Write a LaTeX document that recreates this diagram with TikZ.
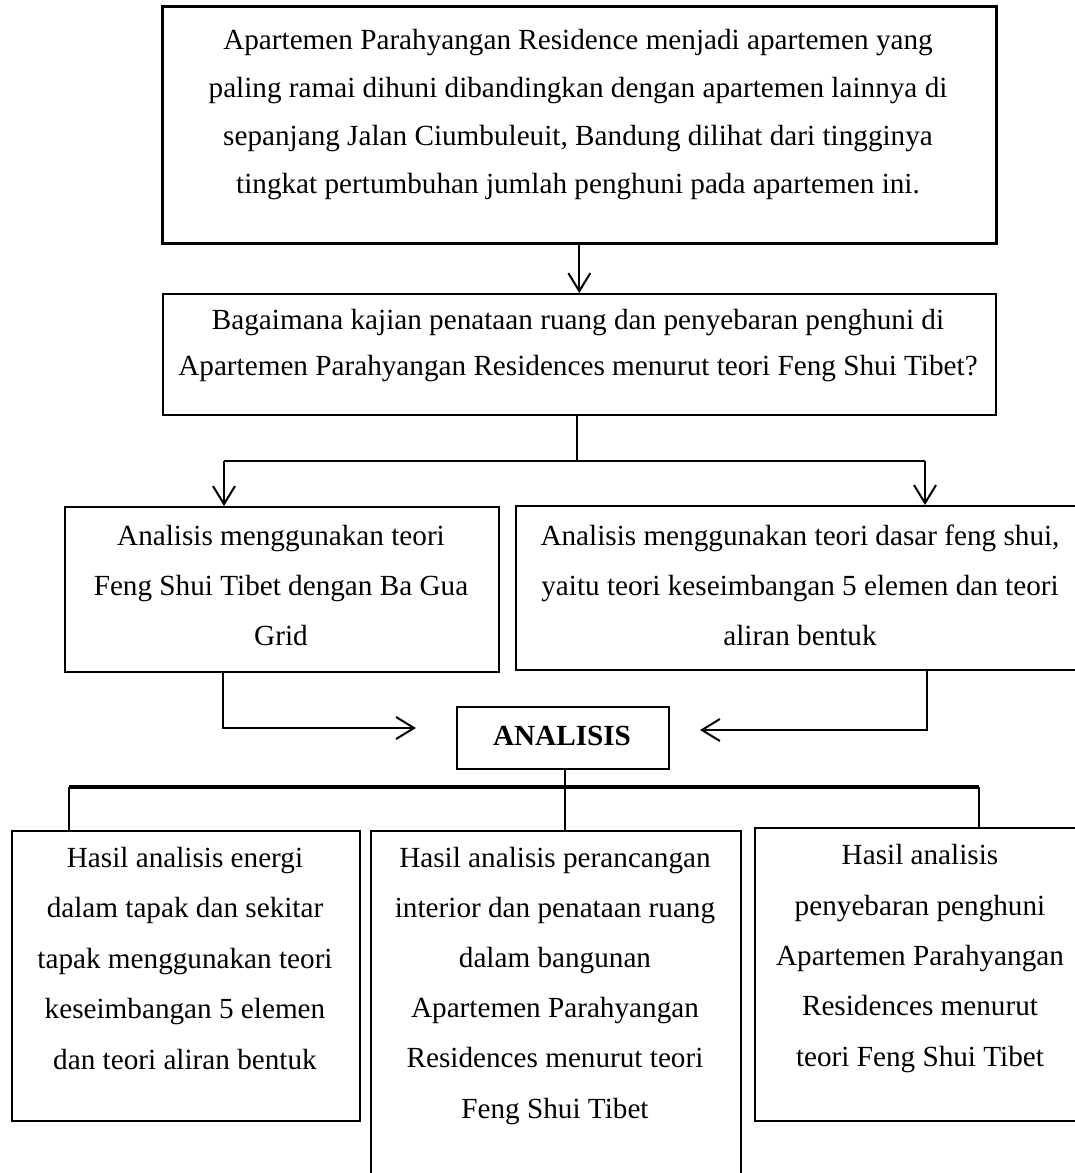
\documentclass[tikz,border=0pt]{standalone}
\usepackage{fontspec}
\setmainfont{Liberation Serif}
\usetikzlibrary{arrows.meta}
\tikzset{
  boxstyle/.style={draw, line width=1.6pt, inner sep=0pt, anchor=north west},
  txtstyle/.style={anchor=base, align=center, inner sep=0pt},
  conn/.style={line width=2pt},
  arr/.style={line width=2pt, -{Straight Barb[length=18pt,width=22pt,line width=2pt]}},
  barstyle/.style={line width=3.5pt}
}
\begin{document}
\begin{tikzpicture}[x=1pt,y=-1pt]
\useasboundingbox (0,0) rectangle (1075,1173);
\clip (0,0) rectangle (1075,1173);
% boxes
\node[boxstyle, line width=2.6pt, minimum width=834pt, minimum height=237pt] (T) at (161,5) {};
\node[boxstyle, minimum width=833pt, minimum height=121pt] (S) at (162,293) {};
\node[boxstyle, minimum width=434pt, minimum height=165pt] (L) at (64,506) {};
\node[boxstyle, minimum width=570pt, minimum height=164pt] (R) at (515,505) {};
\node[boxstyle, minimum width=212pt, minimum height=62pt] (A) at (456,706) {};
\node[boxstyle, minimum width=348pt, minimum height=290pt] (B1) at (11,830) {};
\node[boxstyle, minimum width=370pt, minimum height=400pt] (B2) at (370,830) {};
\node[boxstyle, minimum width=332pt, minimum height=293pt] (B3) at (754,827) {};
% texts (anchored at the baseline of the last line)
\node[txtstyle, font=\fontsize{29.2}{48}\selectfont] (tT) at (578,193)
  {Apartemen Parahyangan Residence menjadi apartemen yang\\
   paling ramai dihuni dibandingkan dengan apartemen lainnya di\\
   sepanjang Jalan Ciumbuleuit, Bandung dilihat dari tingginya\\
   tingkat pertumbuhan jumlah penghuni pada apartemen ini.};
\node[txtstyle, font=\fontsize{29.2}{46}\selectfont] (tS) at (578,375)
  {Bagaimana kajian penataan ruang dan penyebaran penghuni di\\
   Apartemen Parahyangan Residences menurut teori Feng Shui Tibet?};
\node[txtstyle, font=\fontsize{29.2}{50}\selectfont] (tL) at (281,645)
  {Analisis menggunakan teori\\ Feng Shui Tibet dengan Ba Gua\\ Grid};
\node[txtstyle, font=\fontsize{29.2}{50}\selectfont] (tR) at (800,645)
  {Analisis menggunakan teori dasar feng shui,\\ yaitu teori keseimbangan 5 elemen dan teori\\ aliran bentuk};
\node[txtstyle, font=\fontsize{29.2}{50}\selectfont\bfseries] (tA) at (562,745) {ANALISIS};
\node[txtstyle, font=\fontsize{29.2}{50.5}\selectfont] (tB1) at (185,1069)
  {Hasil analisis energi\\ dalam tapak dan sekitar\\ tapak menggunakan teori\\ keseimbangan 5 elemen\\ dan teori aliran bentuk};
\node[txtstyle, font=\fontsize{29.2}{50.2}\selectfont] (tB2) at (555,1118)
  {Hasil analisis perancangan\\ interior dan penataan ruang\\ dalam bangunan\\ Apartemen Parahyangan\\ Residences menurut teori\\ Feng Shui Tibet};
\node[txtstyle, font=\fontsize{29.2}{50.3}\selectfont] (tB3) at (920,1066)
  {Hasil analisis\\ penyebaran penghuni\\ Apartemen Parahyangan\\ Residences menurut\\ teori Feng Shui Tibet};
% connector coordinates
\coordinate (split) at (577,461);
\coordinate (la) at (224,461);
\coordinate (ra) at (925,461);
\coordinate (lb) at (223,728);
\coordinate (lt) at (416,728);
\coordinate (rb) at (927,730);
\coordinate (rt) at (700,730);
\coordinate (bl) at (69,787);
\coordinate (br) at (979,787);
\coordinate (bm) at (565,787);
% connectors
\draw[arr] (T.south) -- (S.north);
\draw[conn] (S.south -| split) -- (split);
\draw[conn] (la) -- (ra);
\draw[arr] (la) -- (la |- L.north);
\draw[arr] (ra) -- (ra |- R.north);
\draw[arr] (lb |- L.south) -- (lb) -- (lt);
\draw[arr] (rb |- R.south) -- (rb) -- (rt);
\draw[conn] (bm |- A.south) -- (bm |- B2.north);
\draw[barstyle] (bl) -- (br);
\draw[conn] (bl) -- (bl |- B1.north);
\draw[conn] (br) -- (br |- B3.north);
\end{tikzpicture}
\end{document}
